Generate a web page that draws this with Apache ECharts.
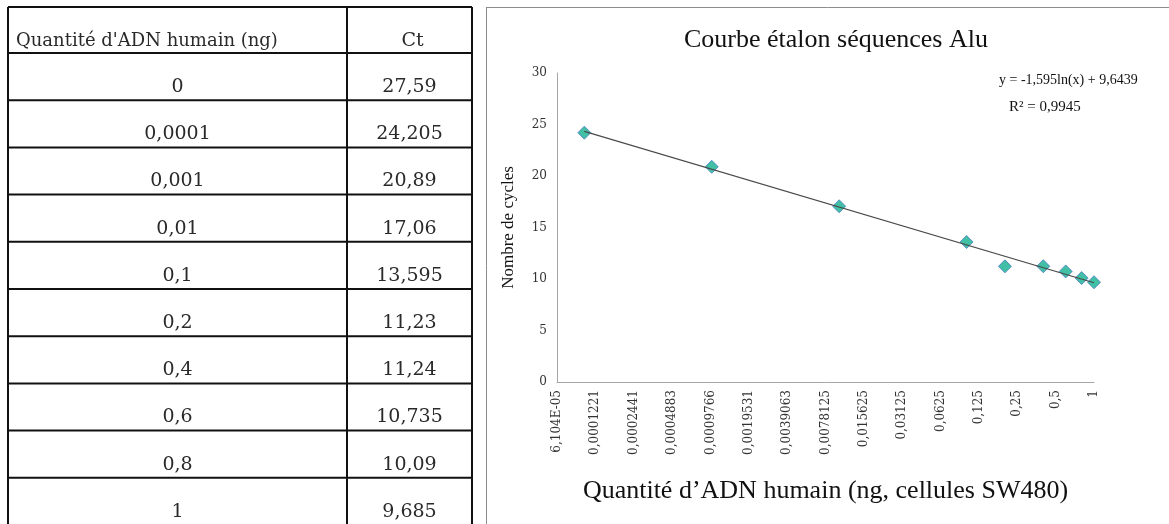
<!DOCTYPE html>
<html>
<head>
<meta charset="utf-8">
<script src="https://cdn.jsdelivr.net/npm/echarts@6/dist/echarts.min.js"></script>
<style>
html,body{margin:0;padding:0;background:#fff;}
#main{width:1169px;height:524px;}
</style>
</head>
<body>
<div id="main"></div>
<script>
// ---- data ----
const quantities = [0, 0.0001, 0.001, 0.01, 0.1, 0.2, 0.4, 0.6, 0.8, 1];
const ctValues = [27.59, 24.205, 20.89, 17.06, 13.595, 11.23, 11.24, 10.735, 10.09, 9.685];
const tableHeader = ["Quantité d'ADN humain (ng)", "Ct"];
const trendX = [0.0001, 1];
const trendY = [24.33, 9.64];
const xTickLabels = ["6,104E-05","0,0001221","0,0002441","0,0004883","0,0009766","0,0019531","0,0039063","0,0078125","0,015625","0,03125","0,0625","0,125","0,25","0,5","1"];
const chartTitle = "Courbe étalon séquences Alu";
const yAxisName = "Nombre de cycles";
const xAxisName = "Quantité d’ADN humain (ng, cellules SW480)";
const eqText = "y = -1,595ln(x) + 9,6439";
const r2Text = "R² = 0,9945";

const fr = v => String(v).replace('.', ',');

// ---- table built as graphics ----
const T = {left: 8, mid: 347, right: 472, top: 7, headBottom: 53, rowH: 47.2, bottom: 524};
const graphics = [];
const hLine = (y, x1, x2, color, w) => graphics.push({type:'line', silent:true, shape:{x1:x1,y1:y,x2:x2,y2:y}, style:{stroke:color, lineWidth:w}});
const vLine = (x, y1, y2, color, w) => graphics.push({type:'line', silent:true, shape:{x1:x,y1:y1,x2:x,y2:y2}, style:{stroke:color, lineWidth:w}});
hLine(T.top, T.left, T.right, '#111', 2);
hLine(T.headBottom, T.left, T.right, '#111', 2);
for (let i = 1; i < quantities.length; i++) hLine(T.headBottom + i * T.rowH, T.left, T.right, '#111', 2);
vLine(T.left, T.top, T.bottom, '#111', 2);
vLine(T.mid, T.top, T.bottom, '#111', 2);
vLine(T.right, T.top, T.bottom, '#111', 2);
const tFont = {fontFamily:'DejaVu Serif', fontSize:19, fill:'#2a2a2a'};
graphics.push({type:'text', silent:true, x:T.left + 8, y:T.top + 34, style:Object.assign({text:tableHeader[0], align:'left', verticalAlign:'middle'}, tFont, {fontSize:18})});
graphics.push({type:'text', silent:true, x:(T.mid + T.right) / 2 + 3, y:T.top + 34, style:Object.assign({text:tableHeader[1], align:'center', verticalAlign:'middle'}, tFont)});
quantities.forEach((q, i) => {
  const yc = T.headBottom + i * T.rowH + 34;
  graphics.push({type:'text', silent:true, x:(T.left + T.mid) / 2, y:yc, style:Object.assign({text:fr(q), align:'center', verticalAlign:'middle'}, tFont)});
  graphics.push({type:'text', silent:true, x:(T.mid + T.right) / 2, y:yc, style:Object.assign({text:fr(ctValues[i]), align:'center', verticalAlign:'middle'}, tFont)});
});
// chart frame
vLine(486.5, 7, 524, '#8c8c8c', 1);
hLine(7.5, 486, 1169, '#8c8c8c', 1);
// equation texts
graphics.push({type:'text', silent:true, x:999, y:80, style:{text:eqText, fontFamily:'Liberation Serif', fontSize:14, fill:'#111', align:'left', verticalAlign:'middle'}});
graphics.push({type:'text', silent:true, x:1009, y:107, style:{text:r2Text, fontFamily:'Liberation Serif', fontSize:15, fill:'#111', align:'left', verticalAlign:'middle'}});

// ---- chart ----
const points = [];
quantities.forEach((q, i) => { if (q > 0) points.push([q, ctValues[i]]); });
const trend = trendX.map((x, i) => [x, trendY[i]]);

const chart = echarts.init(document.getElementById('main'), null, {renderer:'canvas'});
chart.setOption({
  animation: false,
  backgroundColor: '#fff',
  title: {
    text: chartTitle, left: 831, top: 22, textAlign: 'center',
    textStyle: {fontFamily:'Liberation Serif', fontSize:26, fontWeight:'normal', color:'#111'}
  },
  grid: {left: 557, right: 75, top: 73, bottom: 142, containLabel: false},
  xAxis: {
    type: 'log', logBase: 2, min: Math.pow(2, -14), max: 1, interval: 1,
    axisLine: {show:true, lineStyle:{color:'#a6a6a6', width:1}},
    axisTick: {show:false}, splitLine: {show:false}, minorTick:{show:false},
    axisLabel: {
      rotate: 90, margin: 8, fontFamily:'DejaVu Serif', fontSize:12, color:'#333',
      showMinLabel:true, showMaxLabel:true, interval:0, hideOverlap:false,
      formatter: v => { const k = Math.round(Math.log2(v)) + 14; return xTickLabels[k] !== undefined ? xTickLabels[k] : ''; }
    },
    name: xAxisName, nameLocation: 'middle', nameGap: 96,
    nameTextStyle: {fontFamily:'Liberation Serif', fontSize:26, color:'#111'}
  },
  yAxis: {
    type: 'value', min: 0, max: 30, interval: 5,
    axisLine: {show:true, lineStyle:{color:'#a6a6a6', width:1}},
    axisTick: {show:false}, splitLine: {show:false},
    axisLabel: {margin: 10, fontFamily:'DejaVu Serif', fontSize:12, color:'#333'},
    name: yAxisName, nameLocation: 'middle', nameGap: 40, nameRotate: 90,
    nameTextStyle: {fontFamily:'Liberation Serif', fontSize:17, color:'#111'}
  },
  graphic: graphics,
  series: [
    {
      type: 'scatter', data: points, symbol: 'diamond', symbolSize: 13,
      itemStyle: {color:'#12b08f', borderColor:'#4a7cc4', borderWidth:1}, z: 2
    },
    {
      type: 'line', data: trend, showSymbol: false, symbol:'none',
      lineStyle: {color:'#4a4a4a', width:1.2}, z: 3
    }
  ]
});
</script>
</body>
</html>
